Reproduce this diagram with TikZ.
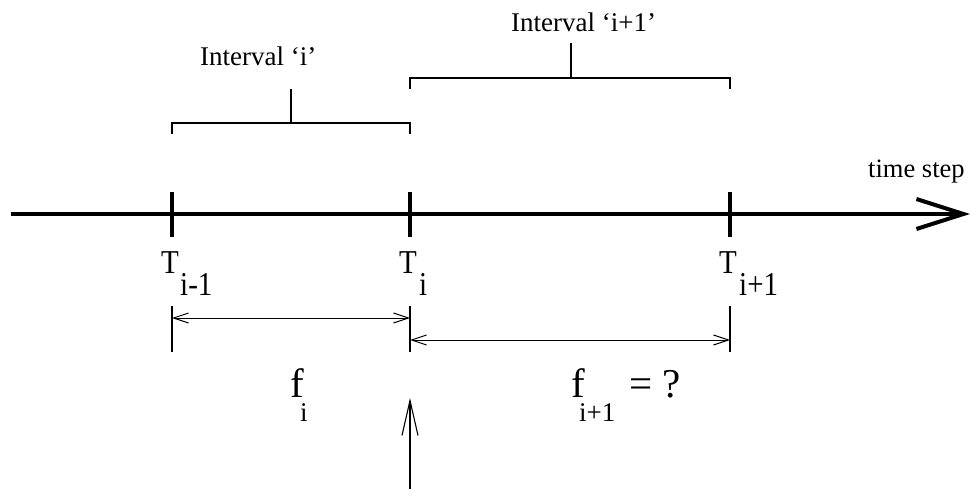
\documentclass[tikz,border=0pt]{standalone}
\usepackage{fontspec}
\setmainfont{Liberation Serif}
\usetikzlibrary{arrows.meta}
\begin{document}
\begin{tikzpicture}[x=1pt,y=-1pt,
  thinline/.style={line width=1.1pt},
  axisline/.style={line width=4pt},
  dimarrow/.style={line width=1pt,{Straight Barb[length=15pt,width=10pt]}-{Straight Barb[length=15pt,width=10pt]}},
  axisarrow/.style={line width=4pt,-{Straight Barb[length=47pt,width=30pt]}},
  uparrow/.style={line width=1.1pt,-{Straight Barb[length=35pt,width=16pt]}},
  txt/.style={inner sep=0pt,anchor=base west},
  ilbl/.style={txt,font=\fontsize{27}{30}\selectfont},
  tlbl/.style={txt,font=\fontsize{29}{32}\selectfont},
  flbl/.style={txt,font=\fontsize{41}{44}\selectfont},
  slbl/.style={txt,font=\fontsize{27}{29}\selectfont}]
\useasboundingbox (0,0) rectangle (974,489);
% axis
\coordinate (AxL) at (11,214);
\coordinate (AxR) at (970,214);
\draw[axisarrow] (AxL) -- (AxR);
\node[txt,font=\fontsize{26.5}{29}\selectfont] (tstep) at (868,178) {time step};
% ticks
\coordinate (K0t) at (172,192); \coordinate (K0b) at (172,237);
\coordinate (K1t) at (410,192); \coordinate (K1b) at (410,237);
\coordinate (K2t) at (730,192); \coordinate (K2b) at (730,237);
\draw[axisline] (K0t) -- (K0b);
\draw[axisline] (K1t) -- (K1b);
\draw[axisline] (K2t) -- (K2b);
% tick labels
\node[tlbl] (T0) at (161,273) {\scalebox{1}[1.15]{T}};
\node[tlbl] (T0s) at (180,295) {\scalebox{1}[1.15]{i-1}};
\node[tlbl] (T1) at (399,273) {\scalebox{1}[1.15]{T}};
\node[tlbl] (T1s) at (419,295) {\scalebox{1}[1.15]{i}};
\node[tlbl] (T2) at (719,273) {\scalebox{1}[1.15]{T}};
\node[tlbl] (T2s) at (739,295) {\scalebox{1}[1.15]{i+1}};
% interval brackets
\coordinate (B1a) at (172,134); \coordinate (B1b) at (172,123);
\coordinate (B1c) at (410,123); \coordinate (B1d) at (410,134);
\coordinate (B1m) at (291,123); \coordinate (B1s) at (291,89);
\draw[thinline] (B1a) -- (B1b) -- (B1c) -- (B1d);
\draw[thinline] (B1m) -- (B1s);
\node[ilbl] (Int1) at (200,66) {Interval ‘i’};
\coordinate (B2a) at (410,89); \coordinate (B2b) at (410,78);
\coordinate (B2c) at (730,78); \coordinate (B2d) at (730,89);
\coordinate (B2m) at (571,78); \coordinate (B2s) at (571,43);
\draw[thinline] (B2a) -- (B2b) -- (B2c) -- (B2d);
\draw[thinline] (B2m) -- (B2s);
\node[ilbl] (Int2) at (511,32) {Interval ‘i+1’};
% extension lines
\coordinate (E0t) at (172,306); \coordinate (E0b) at (172,352);
\coordinate (E1t) at (410,306); \coordinate (E1b) at (410,352);
\coordinate (E2t) at (730,306); \coordinate (E2b) at (730,352);
\draw[thinline] (E0t) -- (E0b);
\draw[thinline] (E1t) -- (E1b);
\draw[thinline] (E2t) -- (E2b);
% dimension arrows
\coordinate (D1a) at (172,318); \coordinate (D1b) at (410,318);
\coordinate (D2a) at (410,340); \coordinate (D2b) at (730,340);
\draw[dimarrow] (D1a) -- (D1b);
\draw[dimarrow] (D2a) -- (D2b);
% f labels
\node[flbl] (f1) at (290,397) {f};
\node[slbl] (f1s) at (300,421) {i};
\node[flbl] (f2) at (571,397) {f};
\node[slbl] (f2s) at (579,421) {i+1};
\node[flbl] (eq) at (629,397) {= ?};
% up arrow
\coordinate (Ub) at (410,489);
\coordinate (Ut) at (410,398);
\draw[uparrow] (Ub) -- (Ut);
\end{tikzpicture}
\end{document}
